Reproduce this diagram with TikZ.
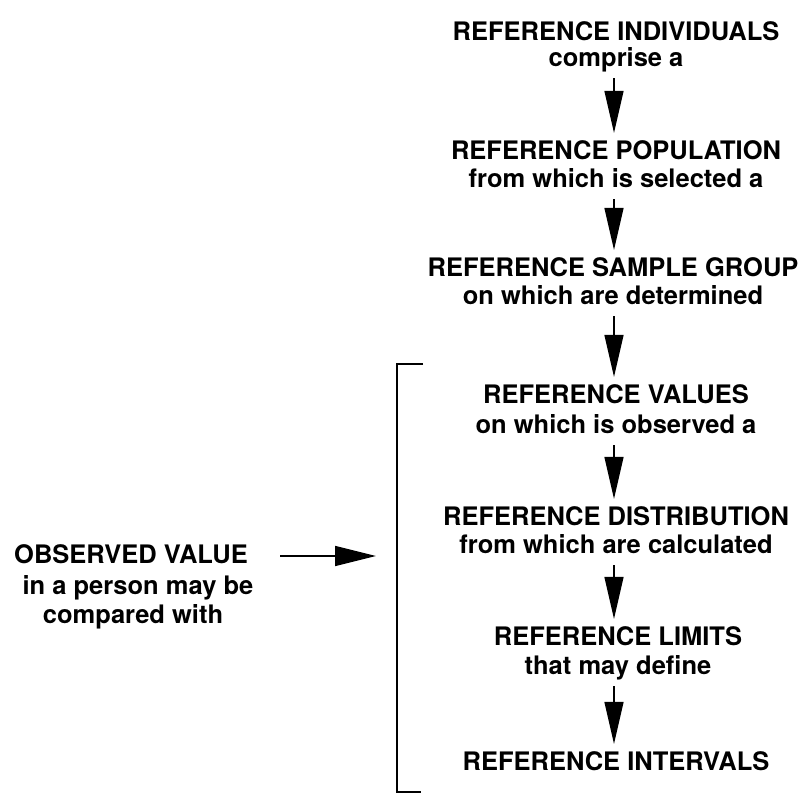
\documentclass[tikz,border=0pt]{standalone}
\usepackage{fontspec}
\setmainfont{TeX Gyre Heros}
\usetikzlibrary{arrows.meta}
\begin{document}
\begin{tikzpicture}[x=1pt,y=-1pt,
  title/.style={anchor=base,inner sep=0pt,font=\fontsize{25.5}{28}\selectfont\bfseries},
  caption/.style={anchor=base,inner sep=0pt,text depth=0pt,font=\fontsize{25.5}{28}\selectfont\bfseries},
  flow/.style={line width=1.3pt,-{Triangle[length=42pt,width=19pt]},shorten <=12pt,shorten >=7pt},
  feed/.style={line width=1.6pt,-{Triangle[length=41pt,width=20pt]}},
  bracket/.style={line width=2.8pt,line cap=butt,line join=miter}
]
\useasboundingbox (0,0) rectangle (812,793);

% chain of reference concepts
\node[title]   (t1) at (616,40)  {REFERENCE INDIVIDUALS};
\node[caption] (c1) at (616,66)  {comprise a};
\node[title]   (t2) at (616,159) {REFERENCE POPULATION};
\node[caption] (c2) at (616,187) {from which is selected a};
\node[title]   (t3) at (613,276) {REFERENCE SAMPLE GROUP};
\node[caption] (c3) at (613,304) {on which are determined};
\node[title]   (t4) at (616,403) {REFERENCE VALUES};
\node[caption] (c4) at (616,433) {on which is observed a};
\node[title]   (t5) at (616,525) {REFERENCE DISTRIBUTION};
\node[caption] (c5) at (616,553) {from which are calculated};
\node[title]   (t6) at (618,645) {REFERENCE LIMITS};
\node[caption] (c6) at (618,674) {that may define};
\node[title]   (t7) at (616,770) {REFERENCE INTERVALS};

\foreach \a/\b in {c1/t2,c2/t3,c3/t4,c4/t5,c5/t6,c6/t7}
  \draw[flow] (\a.south -| 614,0) -- (\b.north -| 614,0);

% observed value in a person
\node[title]   (o1) at (131,563) {OBSERVED VALUE};
\node[caption] (o2) at (138,594) {in a person may be};
\node[caption] (o3) at (133,623) {compared with};

% bracket around the comparable quantities
\coordinate (btop) at (397,364);
\coordinate (bbot) at (397,792);
\draw[bracket] (423,364) -- (btop) -- (bbot) -- (421,792);

\coordinate (hit) at (376,556);
\draw[feed] (280,556) -- (hit);
\end{tikzpicture}
\end{document}
